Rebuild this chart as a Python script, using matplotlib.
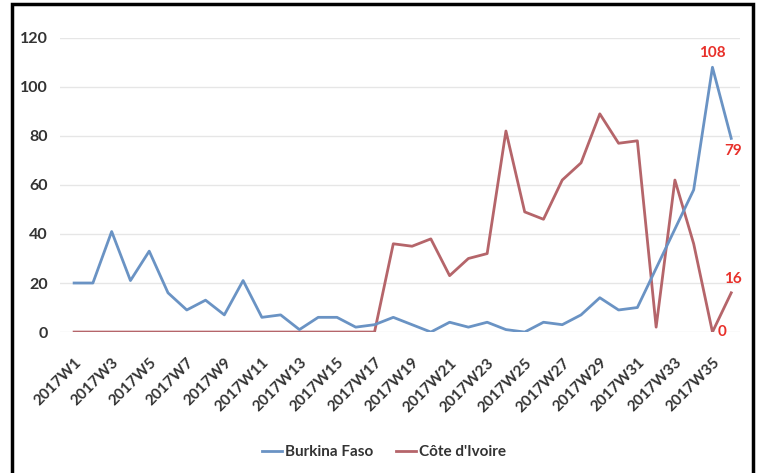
import matplotlib.pyplot as plt
from matplotlib.patches import Rectangle

# semaines epidemiologiques
weeks = ["2017W%d" % i for i in range(1, 37)]

burkina = [20, 20, 41, 21, 33, 16, 9, 13, 7, 21, 6, 7, 1, 6, 6, 2, 3, 6,
           3, 0, 4, 2, 4, 1, 0, 4, 3, 7, 14, 9, 10, 26, 42, 58, 108, 79]
cote_ivoire = [0, 0, 0, 0, 0, 0, 0, 0, 0, 0, 0, 0, 0, 0, 0, 0, 0, 36,
               35, 38, 23, 30, 32, 82, 49, 46, 62, 69, 89, 77, 78, 2, 62, 36, 0, 16]

yticks = [0, 20, 40, 60, 80, 100, 120]

plt.rcParams['font.family'] = ['Lato', 'DejaVu Sans']

fig = plt.figure(figsize=(7.6, 4.73), dpi=100)
ax = fig.add_axes([0.079, 0.298, 0.895, 0.622])

x = list(range(len(weeks)))
ax.plot(x, burkina, color="#6a93c4", lw=2, label="Burkina Faso", zorder=3)
ax.plot(x, cote_ivoire, color="#b5656a", lw=2, label="Côte d'Ivoire", zorder=2)

# etiquettes des dernieres valeurs
red = "#e8302a"
ax.annotate(str(burkina[34]), (34, burkina[34]), xytext=(0, 5), textcoords="offset points",
            ha="center", va="bottom", color=red, fontsize=11, fontweight="bold")
ax.annotate(str(burkina[35]), (35, burkina[35]), xytext=(1, -4), textcoords="offset points",
            ha="center", va="top", color=red, fontsize=11, fontweight="bold")
ax.annotate(str(cote_ivoire[35]), (35, cote_ivoire[35]), xytext=(1, 5), textcoords="offset points",
            ha="center", va="bottom", color=red, fontsize=11, fontweight="bold")
ax.annotate(str(cote_ivoire[34]), (34, cote_ivoire[34]), xytext=(4, 0), textcoords="offset points",
            ha="left", va="center", color=red, fontsize=11, fontweight="bold")

ax.set_xlim(-0.75, 35.48)
ax.set_ylim(0, 120)
ax.set_yticks(yticks)
ax.set_yticklabels([str(v) for v in yticks], fontsize=11.5, fontweight="bold", color="#333333")
ax.set_xticks(x[::2])
ax.set_xticklabels(weeks[::2], rotation=45, ha="right", rotation_mode="anchor",
                   fontsize=11, fontweight="bold", color="#333333")
ax.tick_params(axis="both", length=0)
ax.tick_params(axis="y", pad=9)
ax.tick_params(axis="x", pad=17)
ax.grid(axis="y", color="#e6e6e6", lw=1)
ax.set_axisbelow(True)
for s in ax.spines.values():
    s.set_visible(False)

fig.legend(loc="center", bbox_to_anchor=(0.505, 0.044), ncol=2, frameon=False,
           prop={"size": 11, "weight": "bold"}, handlelength=1.3, handletextpad=0.2,
           columnspacing=1.5, labelcolor="#333333")

# cadre noir autour du graphique (bord bas hors de l'image)
fig.patches.append(Rectangle((0.016, -0.1), 0.975, 1.0915, transform=fig.transFigure,
                             fill=False, edgecolor="black", lw=2.5))

fig.savefig("out.png", dpi=100)
